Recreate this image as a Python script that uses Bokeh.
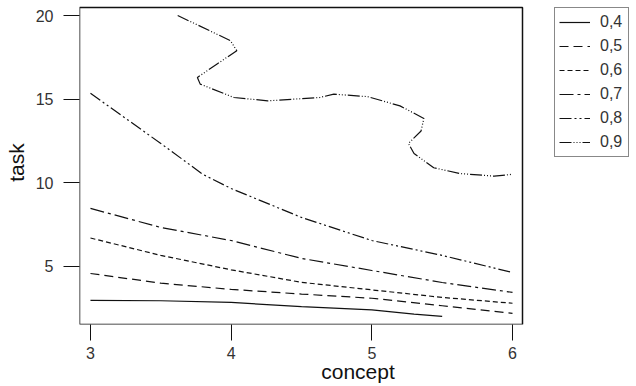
from bokeh.plotting import figure
from bokeh.models import Legend, LegendItem, FixedTicker, Range1d, BoxAnnotation
from bokeh.embed import file_html
from bokeh.resources import INLINE

# contour levels and their traced curves (concept, task)
levels = ["0,4", "0,5", "0,6", "0,7", "0,8", "0,9"]
dashes = ["solid", "9 5", "5 3", "14 4 3 4", "12 3 2 3 2 3", "12 2 1 2 1 2 1 2"]

c04_x = [3.0, 3.5, 4.0, 4.5, 5.0, 5.3, 5.5]
c04_y = [2.97, 2.95, 2.85, 2.6, 2.4, 2.15, 2.02]

c05_x = [3.0, 3.5, 4.0, 4.5, 5.0, 5.5, 6.0]
c05_y = [4.58, 4.0, 3.63, 3.35, 3.1, 2.65, 2.2]

c06_x = [3.0, 3.5, 4.0, 4.5, 5.0, 5.5, 6.0]
c06_y = [6.7, 5.66, 4.8, 4.05, 3.6, 3.15, 2.8]

c07_x = [3.0, 3.5, 4.0, 4.5, 5.0, 5.5, 6.0]
c07_y = [8.47, 7.33, 6.55, 5.48, 4.76, 4.04, 3.45]

c08_x = [3.0, 3.5, 3.8, 4.0, 4.5, 5.0, 5.5, 6.0]
c08_y = [15.35, 12.35, 10.5, 9.66, 7.93, 6.55, 5.66, 4.64]

c09_x = [3.62, 3.995, 4.04, 3.9, 3.76, 3.78, 4.02, 4.26, 4.63, 4.73, 4.97, 5.2,
         5.37, 5.35, 5.26, 5.3, 5.44, 5.63, 5.87, 5.99]
c09_y = [20.0, 18.5, 17.9, 17.1, 16.3, 15.9, 15.1, 14.9, 15.1, 15.3, 15.15, 14.6,
         13.85, 13.1, 12.35, 11.75, 10.9, 10.55, 10.4, 10.5]

xs = [c04_x, c05_x, c06_x, c07_x, c08_x, c09_x]
ys = [c04_y, c05_y, c06_y, c07_y, c08_y, c09_y]

x_ticks = [3, 4, 5, 6]
y_ticks = [5, 10, 15, 20]

FONT = "Liberation Sans"
TXT = "#333333"
INK = "#111111"

# plotting box (data units) and the extra room at right / top for the legend
X0, X1 = 2.922, 6.071
Y0, Y1 = 1.53, 20.48
BOX_W, BOX_H = 443.0, 317.0
x_px = BOX_W / (X1 - X0)
y_px = BOX_H / (Y1 - Y0)
X_EXT = X1 + 114.0 / x_px
Y_EXT = Y1 + 7.0 / y_px

p = figure(width=636, height=386, output_backend="svg", toolbar_location=None,
           x_range=Range1d(X0, X_EXT), y_range=Range1d(Y0, Y_EXT),
           min_border_left=79, min_border_right=0, min_border_top=0,
           min_border_bottom=62, background_fill_color="white",
           border_fill_color="white")
p.grid.visible = False
p.outline_line_color = None

p.add_layout(BoxAnnotation(left=X0, right=X1, bottom=Y0, top=Y1,
                           fill_alpha=0, line_color=INK, line_alpha=1,
                           line_width=1.5, level="underlay"))

items = []
for lx, ly, lab, d in zip(xs, ys, levels, dashes):
    r = p.line(lx, ly, line_color=INK, line_width=1.2, line_dash=d)
    items.append(LegendItem(label=lab, renderers=[r]))

for ax in (p.xaxis[0], p.yaxis[0]):
    ax.axis_line_color = None
    ax.major_tick_in = 0
    ax.major_tick_out = 16
    ax.major_tick_line_color = INK
    ax.minor_tick_line_color = None
    ax.major_label_text_font = FONT
    ax.major_label_text_font_size = "16px"
    ax.major_label_text_color = TXT
    ax.axis_label_text_font = FONT
    ax.axis_label_text_font_size = "21px"
    ax.axis_label_text_font_style = "normal"
    ax.axis_label_text_color = "#111111"

p.xaxis[0].ticker = FixedTicker(ticks=x_ticks)
p.yaxis[0].ticker = FixedTicker(ticks=y_ticks)
p.xaxis[0].axis_label = "concept"
p.yaxis[0].axis_label = "task"
p.xaxis[0].major_label_standoff = 6
p.yaxis[0].major_label_standoff = 10
p.xaxis[0].axis_label_standoff = -2
p.yaxis[0].axis_label_standoff = 5

legend = Legend(items=items, location="top_right", orientation="vertical",
                glyph_width=31, glyph_height=20, label_height=20, spacing=4,
                padding=4, label_standoff=10, label_width=24, margin=7,
                border_line_color=INK, border_line_width=1,
                background_fill_color="white", background_fill_alpha=1,
                label_text_font=FONT, label_text_font_size="16px",
                label_text_color=TXT)
p.add_layout(legend, "center")

open("out.html", "w").write(file_html(p, INLINE))
